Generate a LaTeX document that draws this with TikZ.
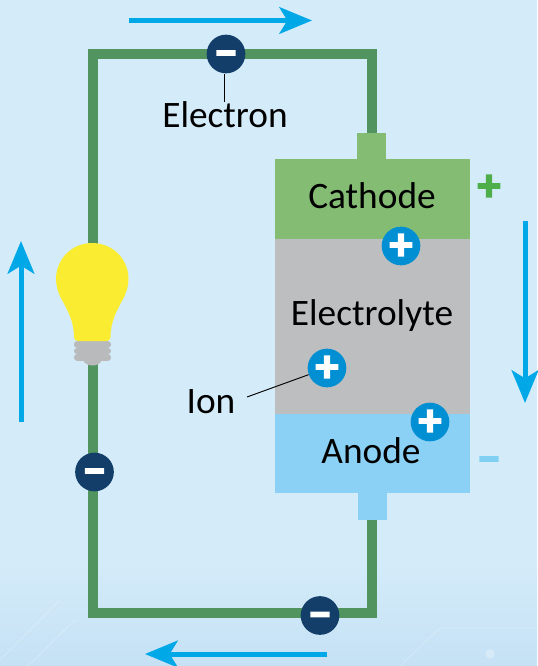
\documentclass[tikz,border=0pt]{standalone}
\usepackage{fontspec}
\setmainfont{Carlito}
\newfontfamily\signfont[FakeBold=4]{Carlito Bold}
\usetikzlibrary{arrows.meta}
\usetikzlibrary{positioning}
\definecolor{bgblue}{RGB}{212,236,250}
\definecolor{bgdeep}{RGB}{197,225,244}
\definecolor{wiregreen}{RGB}{82,148,95}
\definecolor{cathodegreen}{RGB}{132,188,115}
\definecolor{electrolytegray}{RGB}{189,190,192}
\definecolor{anodeblue}{RGB}{139,208,245}
\definecolor{flowblue}{RGB}{0,168,232}
\definecolor{electronnavy}{RGB}{19,62,105}
\definecolor{ionblue}{RGB}{0,143,211}
\definecolor{bulbyellow}{RGB}{249,236,49}
\definecolor{basegray}{RGB}{185,186,188}
\definecolor{plusgreen}{RGB}{77,174,74}
\definecolor{minusblue}{RGB}{127,208,243}
\newcommand{\signtext}[1]{\raisebox{-10pt}{#1}}
\tikzset{
    % cell parts
    cellbox/.style={
        rectangle,
        inner sep=0pt,
        outer sep=0pt,
        minimum width=145.9pt,
        minimum height=59.3pt
    },
    tabbox/.style={
        rectangle,
        inner sep=0pt,
        outer sep=0pt,
        minimum width=21.4pt,
        minimum height=20.5pt
    },
    % charges
    signmark/.style={
        inner sep=0pt,
        text height=0pt,
        text depth=0pt,
        font=\fontsize{34}{34}\signfont
    },
    electron/.style={
        signmark,
        circle,
        fill=electronnavy,
        text=white,
        minimum size=29pt
    },
    ion/.style={
        signmark,
        circle,
        fill=ionblue,
        text=white,
        minimum size=29pt
    },
    celllabel/.style={
        inner sep=0pt,
        text=black,
        font=\fontsize{28}{28}\selectfont
    },
    wire/.style={
        line width=7.8pt,
        wiregreen
    },
    leader/.style={
        line width=0.7pt,
        black
    },
    flowarrow/.style={
        line width=3.75pt,
        flowblue,
        -{Stealth[length=24.5pt, width=20pt, inset=6pt]}
    },
    basebar/.style={
        line width=4.6pt,
        basegray,
        line cap=round
    }
}
\begin{document}
\begin{tikzpicture}[x=0.75pt,y=-0.75pt]
    \useasboundingbox (0,0) rectangle (537,666);

    % background
    \fill[bgblue] (0,0) rectangle (537,666);
    \shade[top color=bgblue, bottom color=bgdeep] (0,560) rectangle (537,666);
    \draw[white, opacity=0.25, line width=0.6pt] (0,660) -- (60,600) (28,666) -- (75,620);
    \draw[white, opacity=0.25, line width=0.6pt] (400,666) -- (440,628) -- (537,628);
    \fill[white, opacity=0.3] (490,654) circle (4.5);

    % cell
    \node[tabbox, fill=cathodegreen] (cathodetab) at (371.75,147) {};
    \node[tabbox, fill=anodeblue] (anodetab) at (372.75,506) {};
    \node[cellbox, fill=cathodegreen] (cathode) at (372.75,199) {};
    \node[cellbox, fill=electrolytegray, minimum height=131.6pt] (electrolyte) at (372.75,326.25) {};
    \node[cellbox, fill=anodeblue] (anode) at (372.75,453.5) {};

    % circuit
    \path
    (372,54) coordinate (w1)
    (93,54) coordinate (w2)
    (93,613) coordinate (w3)
    (372,613) coordinate (w4);
    \draw[wire] (cathodetab.north -| w1) -- (w1) -- (w2) -- (w3) -- (w4) -- (anodetab.south -| w4);

    % lamp
    \draw[basebar] (77,344.5) -- (108,344.5);
    \draw[basebar] (77,351) -- (108,351);
    \draw[basebar] (77,357.5) -- (108,357.5);
    \fill[basegray] (82,359) .. controls (85,364) and (88,365.5) .. (92.5,365.5) .. controls (97,365.5) and (100,364) .. (103,359) -- cycle;
    \fill[bulbyellow] (78,341)
      .. controls (75.5,341) and (74,339.5) .. (74,337)
      .. controls (74,322) and (68,311) .. (62,300)
      .. controls (58,293) and (56,286) .. (56,279)
      .. controls (56,259) and (72,243) .. (92.3,243)
      .. controls (112.5,243) and (128.5,259) .. (128.5,279)
      .. controls (128.5,286) and (126.5,293) .. (122.5,300)
      .. controls (116.5,311) and (110.5,322) .. (110.5,337)
      .. controls (110.5,339.5) and (109,341) .. (106.5,341)
      -- cycle;

    % charges
    \node[electron] (e1) at (226,54) {\signtext{−}};
    \node[electron] (e2) at (94.5,472) {\signtext{−}};
    \node[electron] (e3) at (320,615.5) {\signtext{−}};
    \node[ion] (i1) at (401,246) {\signtext{+}};
    \node[ion] (i2) at (327,368) {\signtext{+}};
    \node[ion] (i3) at (430,422) {\signtext{+}};

    % labels
    \node[celllabel] (electronlabel) at (225,115) {Electron};
    \node[celllabel] at (372,196) {Cathode};
    \node[celllabel] at (372,316) {Electrolyte};
    \node[celllabel] at (371,451) {Anode};
    \node[celllabel] (ionlabel) at (211,402) {Ion};
    \draw[leader] (e1.south -| electronlabel) ++(-1,0) -- ++(0,28);
    \draw[leader] (247,397) -- (i2);
    \node[signmark, text=plusgreen] (plusmark) at (489,187) {\signtext{+}};
    \node[signmark, text=minusblue] (minusmark) at (489,460) {\signtext{−}};

    % flow arrows
    \path
    (129,20.5) coordinate (a1) (312,20.5) coordinate (a2)
    (525,221) coordinate (a3) (525,403) coordinate (a4)
    (327,654) coordinate (a5) (145,654) coordinate (a6)
    (21,422) coordinate (a7) (21,241) coordinate (a8);
    \draw[flowarrow] (a1) -- (a2);
    \draw[flowarrow] (a3) -- (a4);
    \draw[flowarrow] (a5) -- (a6);
    \draw[flowarrow] (a7) -- (a8);
\end{tikzpicture}
\end{document}
